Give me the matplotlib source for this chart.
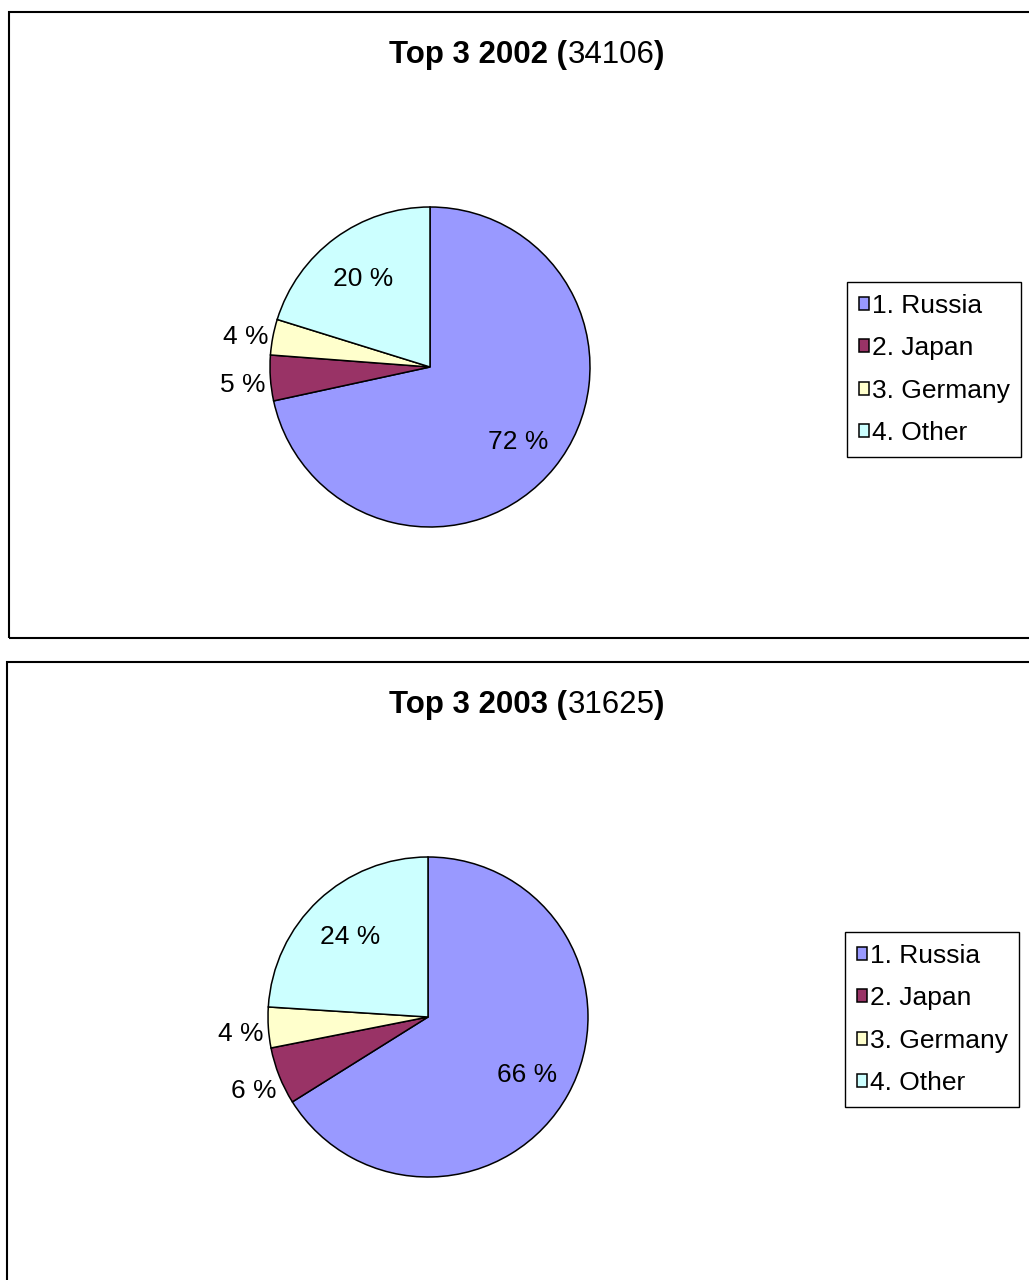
import matplotlib
matplotlib.use("Agg")
import matplotlib.pyplot as plt
from matplotlib.patches import Rectangle
import numpy as np

plt.rcParams['font.family'] = ['Liberation Sans', 'DejaVu Sans']

categories = ["1. Russia", "2. Japan", "3. Germany", "4. Other"]
colors = ["#9999FF", "#993366", "#FFFFCC", "#CCFFFF"]
years = ["2002", "2003"]
totals = ["34106", "31625"]
shares_2002 = [71.6, 4.6, 3.6, 20.2]
shares_2003 = [66.1, 5.8, 4.1, 24.0]
shares = [shares_2002, shares_2003]

W, H = 1029, 1280
fig = plt.figure(figsize=(W / 100, H / 100), dpi=100)
fig.patch.set_facecolor("white")


def fx(px):
    return px / W


def fy(py):
    return 1 - py / H


# panel layout (pixels)
panels = [
    dict(box=(9, 12, 1045, 638), center=(430, 367), title_y=63, legend=(847, 282)),
    dict(box=(7, 662, 1045, 1300), center=(428, 1017), title_y=713, legend=(845, 932)),
]
R = 160

for p, year, total, vals in zip(panels, years, totals, shares):
    x0, y0, x1, y1 = p["box"]
    fig.add_artist(Rectangle((fx(x0), fy(y1)), fx(x1) - fx(x0), fy(y0) - fy(y1),
                             transform=fig.transFigure, fill=False,
                             edgecolor="black", linewidth=1.5, clip_on=False))
    cx, cy = p["center"]
    ax = fig.add_axes([fx(cx - R), fy(cy + R), fx(2 * R), 2 * R / H])
    wedges, _ = ax.pie(vals, colors=colors, startangle=90, counterclock=False,
                       wedgeprops=dict(edgecolor="black", linewidth=1.1),
                       radius=1.0)
    ax.set_xlim(-1, 1)
    ax.set_ylim(-1, 1)
    ax.set_axis_off()
    tot = sum(vals)
    for w, v in zip(wedges, vals):
        mid = np.deg2rad((w.theta1 + w.theta2) / 2)
        frac = v / tot
        r = 1.17 if frac < 0.1 else 0.71
        ax.text(r * np.cos(mid), r * np.sin(mid) - (0.03 if frac < 0.1 else 0.02),
                f"{round(v)} %",
                ha="center", va="center", fontsize=19, color="black",
                clip_on=False)

    # legend
    fig.legend(wedges, categories, loc="upper left",
               bbox_to_anchor=(fx(p["legend"][0]), fy(p["legend"][1])),
               bbox_transform=fig.transFigure, borderaxespad=0,
               fontsize=19, frameon=True, fancybox=False, shadow=False,
               edgecolor="black", framealpha=1, handlelength=0.38,
               handleheight=0.38, handletextpad=0.1, labelspacing=0.7,
               borderpad=0.45)

    # title with mixed weight
    fig.canvas.draw()
    rend = fig.canvas.get_renderer()
    parts = [(f"Top 3 {year} (", "bold"), (total, "normal"), (")", "bold")]
    texts = []
    for s, wgt in parts:
        t = fig.text(0, fy(p["title_y"]), s, fontsize=22.5, fontweight=wgt,
                     ha="left", va="baseline")
        texts.append(t)
    widths = [t.get_window_extent(renderer=rend).width for t in texts]
    total_w = sum(widths)
    start = 527 - total_w / 2
    xpos = start
    for t, wd in zip(texts, widths):
        t.set_x(fx(xpos))
        xpos += wd

fig.savefig("out.png", dpi=100, facecolor="white")
